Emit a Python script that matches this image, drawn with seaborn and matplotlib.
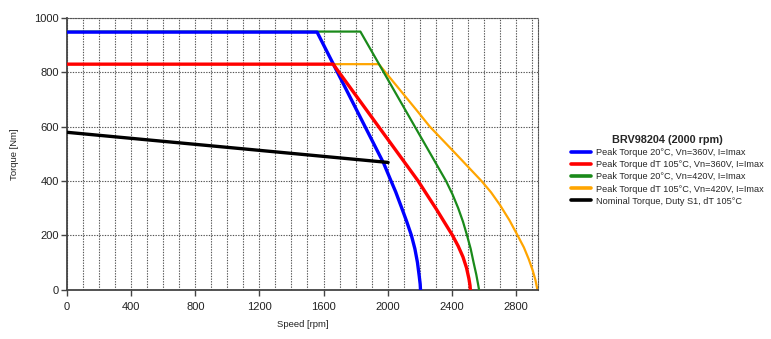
import matplotlib
matplotlib.use("Agg")
import matplotlib.pyplot as plt
from matplotlib.ticker import MultipleLocator
import seaborn as sns
import pandas as pd

sns.set_theme(style="white")
plt.rcParams["font.family"] = ["Liberation Sans", "DejaVu Sans"]

# Torque–speed envelopes of the BRV98204 motor
blue_speed = [0, 1560, 1976, 2019, 2050, 2085, 2118, 2148, 2170, 2186, 2197, 2203, 2205]
blue_torque = [948, 948, 464, 403, 360, 305, 252, 200, 150, 100, 50, 20, 0]

red_speed = [0, 1660, 2190, 2250, 2305, 2357, 2404, 2440, 2470, 2492, 2507, 2514, 2516]
red_torque = [830, 830, 400, 345, 295, 245, 200, 160, 120, 80, 40, 15, 0]

green_speed = [0, 1830, 2364, 2405, 2440, 2470, 2495, 2518, 2536, 2553, 2564, 2570]
green_torque = [950, 950, 400, 350, 300, 250, 200, 150, 100, 55, 20, 0]

orange_speed = [0, 1945, 2180, 2263, 2425, 2585, 2645, 2700, 2760, 2810, 2850,
                2880, 2905, 2922, 2934]
orange_torque = [830, 830, 661, 600, 500, 400, 358, 312, 255, 200, 155,
                 112, 70, 35, 0]

black_speed = [0, 2003]
black_torque = [579, 468]

series_labels = [
    "Peak Torque 20°C, Vn=360V, I=Imax",
    "Peak Torque dT 105°C, Vn=360V, I=Imax",
    "Peak Torque 20°C, Vn=420V, I=Imax",
    "Peak Torque dT 105°C, Vn=420V, I=Imax",
    "Nominal Torque, Duty S1, dT 105°C",
]
series_colors = ["#0000ff", "#ff0000", "#1a8a1a", "#ffa500", "#000000"]
series_widths = [2.4, 2.4, 1.6, 1.6, 2.4]
# stacking: the 360 V curves sit above the 420 V curves where they overlap
series_z = [4, 5, 3, 2, 6]

x_ticks = [0, 400, 800, 1200, 1600, 2000, 2400, 2800]
y_ticks = [0, 200, 400, 600, 800, 1000]

fig = plt.figure(figsize=(7.71, 3.39), dpi=100)
ax = fig.add_axes([67 / 771, 1 - 289.5 / 339, (538 - 67) / 771, (289.5 - 18) / 339])

data = [
    (blue_speed, blue_torque),
    (red_speed, red_torque),
    (green_speed, green_torque),
    (orange_speed, orange_torque),
    (black_speed, black_torque),
]
for (sx, ty), lab, col, lw, z in zip(data, series_labels, series_colors,
                                     series_widths, series_z):
    df = pd.DataFrame({"speed": sx, "torque": ty})
    sns.lineplot(data=df, x="speed", y="torque", sort=False, estimator=None,
                 color=col, linewidth=lw, label=lab, ax=ax, zorder=z)

ax.set_xlim(0, 2938)
ax.set_ylim(0, 1000)
ax.set_xticks(x_ticks)
ax.set_yticks(y_ticks)
ax.xaxis.set_minor_locator(MultipleLocator(100))

grid_kw = dict(color="#555555", linestyle=(0, (1.2, 1.2)), linewidth=0.8)
ax.grid(True, which="major", axis="y", **grid_kw)
ax.grid(True, which="both", axis="x", **grid_kw)
ax.set_axisbelow(True)

for side in ("left", "bottom"):
    ax.spines[side].set_color("#444444")
    ax.spines[side].set_linewidth(1.3)
for side in ("top", "right"):
    ax.spines[side].set_color("#555555")
    ax.spines[side].set_linewidth(0.8)
    ax.spines[side].set_linestyle((0, (1.2, 1.2)))

ax.tick_params(axis="both", which="major", direction="out", length=4, width=1,
               color="#444444", labelsize=8, labelcolor="#222222", pad=2,
               bottom=True, left=True)
ax.tick_params(axis="x", which="major", pad=5)
ax.tick_params(axis="x", which="minor", length=0)

ax.set_xlabel("Speed [rpm]", fontsize=6.8, color="#222222", labelpad=6)
ax.set_ylabel("Torque [Nm]", fontsize=6.8, color="#222222", labelpad=11)

handles, labels = ax.get_legend_handles_labels()
ax.legend_.remove()
leg = fig.legend(handles, labels, title="BRV98204 (2000 rpm)",
                 loc="upper left", bbox_to_anchor=(567 / 771, 1 - 131 / 339),
                 frameon=False, fontsize=6.6, title_fontsize=7.8,
                 handlelength=2.2, handletextpad=0.6, labelspacing=0.35,
                 borderaxespad=0)
leg.get_title().set_fontweight("bold")
for h in leg.legend_handles:
    h.set_linewidth(2.6)

fig.savefig("out.png", dpi=100)
